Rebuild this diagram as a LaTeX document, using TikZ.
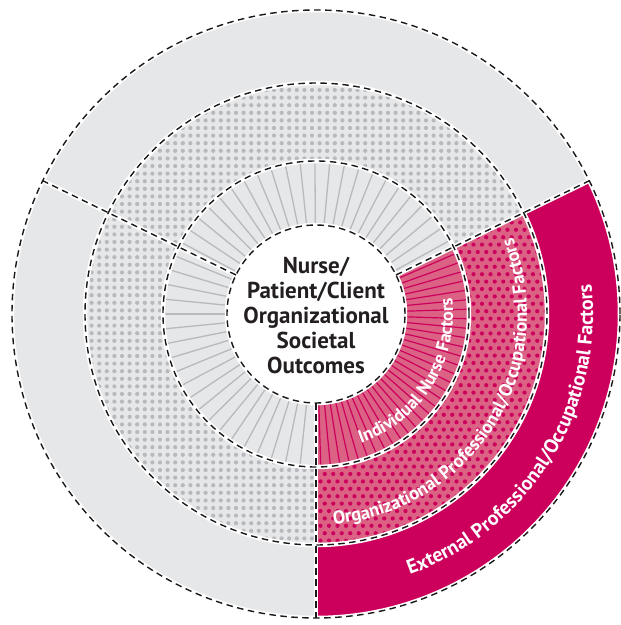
\documentclass[tikz,border=0pt]{standalone}
\usepackage{fontspec}
\setmainfont{PT Sans}
\usepackage{tikz}
\usetikzlibrary{decorations.text}
\definecolor{ringgray}{RGB}{230,231,232}
\definecolor{dotgray}{RGB}{184,185,188}
\definecolor{nursemag}{RGB}{204,0,92}
\definecolor{nursepink}{RGB}{219,98,132}
\definecolor{outcometext}{RGB}{35,31,32}
\tikzstyle{gapline}  = [white, line width=4.5pt]
\tikzstyle{dashline} = [black!90, line width=1.4pt, dash pattern=on 6.5pt off 4.5pt]
\tikzstyle{ringtext} = [decorate, decoration={text along path, text align=center, text color=white}]
\newcommand{\band}[4]{(#3:#1) arc (#3:#4:#1) -- (#4:#2) arc (#4:#3:#2) -- cycle}

\begin{document}
\begin{tikzpicture}[x=1pt, y=1pt]
    \useasboundingbox (-316,-311) rectangle (305,314);

    % ring fills
    \fill[ringgray] \band{231}{304}{26}{270};
    \fill[nursemag] \band{231}{304}{-90}{26};
    \fill[ringgray] \band{153}{231}{26}{270};
    \fill[nursepink] \band{153}{231}{-90}{26};
    \fill[ringgray] \band{89}{153}{26}{270};
    \fill[nursepink] \band{89}{153}{-90}{26};

    % dotted ring
    \begin{scope}
        \clip \band{153}{231}{26}{270};
        \foreach \x in {-232,-224.4,...,232}
            \foreach \y in {-232,-224.4,...,232}
                \fill[dotgray] (\x,\y) circle (2.1);
    \end{scope}
    \begin{scope}
        \clip \band{153}{231}{-90}{26};
        \foreach \y [count=\i] in {-234,-226.6,...,105} {
            \pgfmathsetmacro{\off}{mod(\i,2)*4.25}
            \foreach \x in {-4,4.5,...,236}
                \fill[nursemag] (\x+\off,\y) circle (2.1);
        }
    \end{scope}

    % spokes of the inner ring
    \foreach \a in {28.8,34.4,...,268}
        \draw[dotgray, line width=1.3pt] (\a:89) -- (\a:153);
    \foreach \a in {-88.2,-84.6,...,25}
        \draw[nursemag, line width=1.2pt] (\a:89) -- (\a:153);

    % gaps and dashed borders
    \foreach \r in {89,153,231,304}
        \draw[gapline] (0,0) circle (\r);
    \foreach \a in {26,154,270}
        \draw[gapline] (\a:89) -- (\a:304);
    \foreach \r in {89,153,231,304}
        \draw[dashline] (0,0) circle (\r);
    \foreach \a in {26,154,270}
        \draw[dashline] (\a:89) -- (\a:304);

    % labels
    \node (outcomes) at (0,-1) [align=center, text=outcometext,
        font=\bfseries\fontsize{23}{25}\selectfont]
        {Nurse/\\Patient/Client\\Organizational\\Societal\\Outcomes};
    \path[ringtext, decoration={text={|\fontsize{20}{20}\selectfont\bfseries|External Professional/Occupational Factors}}]
        (-90:277) arc (-90:26:277);
    \path[ringtext, decoration={text={|\fontsize{18.5}{18.5}\selectfont\bfseries|Organizational Professional/Occupational Factors}}]
        (-90:211) arc (-90:26:211);
    \path[ringtext, decoration={text={|\fontsize{18}{18}\selectfont\bfseries|Individual Nurse Factors}}]
        (-90:137) arc (-90:26:137);
\end{tikzpicture}
\end{document}
